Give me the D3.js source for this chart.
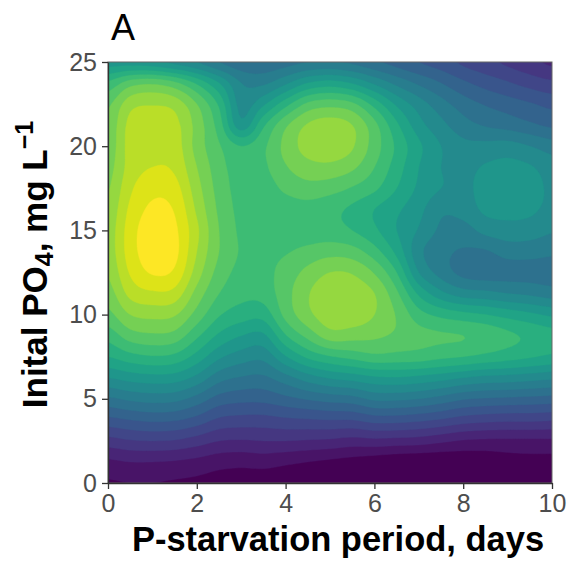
<!DOCTYPE html>
<html>
<head>
<meta charset="utf-8">
<script src="https://cdn.jsdelivr.net/npm/d3@7"></script>
<style>
  body { margin: 0; background: #fff; }
  svg { display: block; }
  text { font-family: "Liberation Sans", Arial, sans-serif; }
</style>
</head>
<body>
<svg id="chart" width="569" height="563"></svg>
<script>
// Grid of the fitted response surface (level score, 0–20), sampled every
// 0.5 day along x and every 1.25 mg/L along y (top row = 25, bottom row = 0).
const xGrid = [0, 0.5, 1, 1.5, 2, 2.5, 3, 3.5, 4, 4.5, 5, 5.5, 6, 6.5, 7, 7.5, 8, 8.5, 9, 9.5, 10];
const yGrid = [25, 23.75, 22.5, 21.25, 20, 18.75, 17.5, 16.25, 15, 13.75, 12.5, 11.25, 10, 8.75, 7.5, 6.25, 5, 3.75, 2.5, 1.25, 0];

// one array per x column, values listed from y = 25 down to y = 0
const zByColumn = [
  [10.5, 13.2, 14.8, 15.2, 15.3, 15.6, 15.9, 16.2, 16.4, 16.4, 16.1, 15.5, 14.7, 13.4, 12.0, 10.0, 7.8, 5.7, 3.6, 1.8, 0.9],
  [10.5, 14.5, 16.6, 17.3, 17.4, 17.4, 17.8, 18.2, 18.5, 18.5, 18.1, 17.3, 16.0, 14.5, 12.6, 10.4, 8.2, 6.0, 3.9, 2.0, 1.0],
  [10.3, 14.8, 16.9, 17.5, 17.6, 18.0, 18.7, 19.2, 19.6, 19.6, 19.1, 17.8, 16.3, 14.8, 12.9, 10.6, 8.4, 6.2, 4.0, 2.0, 1.0],
  [9.7, 14.2, 16.6, 17.3, 17.5, 17.8, 18.4, 18.9, 19.2, 19.3, 18.8, 17.6, 16.1, 14.6, 12.7, 10.5, 8.3, 6.1, 3.9, 1.9, 0.9],
  [9.0, 12.8, 15.0, 15.6, 15.6, 16.0, 16.4, 16.8, 17.2, 17.0, 16.5, 15.6, 14.6, 13.2, 11.6, 9.7, 7.6, 5.6, 3.5, 1.7, 0.8],
  [8.0, 11.0, 12.8, 13.5, 14.1, 14.4, 14.6, 14.8, 15.0, 15.0, 14.6, 14.0, 13.1, 11.8, 10.2, 8.4, 6.6, 4.8, 3.0, 1.4, 0.6],
  [7.3, 9.0, 9.6, 10.4, 13.0, 13.5, 13.6, 13.7, 13.8, 13.9, 13.7, 13.3, 12.5, 11.0, 9.5, 7.9, 6.3, 4.6, 2.9, 1.3, 0.5],
  [7.3, 8.8, 10.8, 12.8, 13.8, 13.8, 13.5, 13.4, 13.4, 13.7, 13.7, 13.4, 12.4, 10.8, 9.3, 7.8, 6.3, 4.6, 3.0, 1.4, 0.4],
  [7.6, 9.8, 12.6, 14.8, 15.3, 14.9, 14.2, 13.5, 13.4, 13.9, 14.4, 14.6, 14.3, 12.9, 10.9, 8.6, 6.7, 4.8, 3.0, 1.2, 0.3],
  [8.0, 11.0, 14.2, 16.1, 16.4, 15.6, 14.6, 13.6, 13.4, 14.3, 15.3, 15.9, 15.7, 14.3, 12.2, 9.5, 7.1, 4.9, 2.9, 1.0, 0.1],
  [8.1, 11.4, 14.6, 16.5, 16.7, 15.7, 14.4, 13.3, 13.4, 14.6, 16.0, 16.7, 16.6, 15.5, 12.9, 10.1, 7.4, 5.0, 2.8, 0.8, -0.2],
  [7.8, 10.9, 14.2, 16.0, 16.1, 15.2, 13.9, 12.8, 13.0, 14.4, 15.9, 16.6, 16.6, 15.4, 13.3, 10.4, 7.6, 5.0, 2.6, 0.6, -0.4],
  [7.2, 9.8, 12.6, 14.3, 14.5, 14.0, 13.2, 12.0, 12.2, 13.4, 14.9, 16.0, 16.0, 15.2, 13.7, 10.8, 8.2, 5.4, 2.7, 0.4, -0.6],
  [6.6, 8.7, 10.8, 12.2, 12.8, 12.5, 12.0, 11.2, 11.0, 11.7, 13.0, 14.2, 14.9, 14.8, 13.6, 10.9, 8.2, 5.4, 2.6, 0.2, -0.8],
  [6.0, 7.8, 9.5, 10.4, 11.2, 11.0, 10.8, 10.3, 9.9, 9.3, 10.0, 11.8, 13.4, 14.3, 13.5, 10.7, 8.0, 5.2, 2.5, 0.1, -0.9],
  [5.5, 7.0, 8.4, 9.3, 10.0, 10.0, 10.0, 9.2, 8.8, 8.3, 8.6, 10.3, 12.7, 14.1, 13.2, 10.4, 7.6, 4.9, 2.2, 0.1, -0.9],
  [4.8, 6.2, 7.5, 8.4, 9.3, 9.7, 9.8, 9.4, 8.6, 7.9, 7.7, 9.5, 12.3, 14.0, 13.0, 10.0, 7.1, 4.5, 1.9, 0.2, -0.8],
  [4.3, 5.6, 6.9, 7.9, 9.3, 10.1, 10.3, 10.2, 9.3, 7.9, 7.5, 9.3, 12.0, 13.7, 12.7, 9.7, 6.9, 4.3, 1.8, 0.3, -0.7],
  [3.8, 5.1, 6.5, 7.6, 9.4, 10.3, 10.5, 10.3, 9.6, 8.4, 7.6, 9.0, 11.6, 13.2, 12.4, 9.6, 6.8, 4.2, 1.8, 0.5, -0.5],
  [3.3, 4.6, 6.1, 7.2, 9.0, 10.1, 10.4, 10.2, 9.5, 8.4, 7.6, 8.8, 11.2, 12.8, 12.1, 9.4, 6.7, 4.2, 1.8, 0.6, -0.4],
  [2.8, 4.2, 5.7, 6.8, 8.5, 9.5, 9.8, 9.7, 9.1, 8.2, 7.5, 8.5, 10.8, 12.4, 11.8, 9.2, 6.6, 4.1, 1.8, 0.6, -0.4]
];

const xTicks = [0, 2, 4, 6, 8, 10];
const yTicks = [0, 5, 10, 15, 20, 25];
const nBins = 20;

const svg = d3.select("#chart");
const x = d3.scaleLinear().domain([0, 10]).range([108, 552]);
const y = d3.scaleLinear().domain([0, 25]).range([483, 62]);

// grid index -> data value
const xIdx = d3.scaleLinear().domain([0, xGrid.length - 1]).range([xGrid[0], xGrid[xGrid.length - 1]]);
const yIdx = d3.scaleLinear().domain([0, yGrid.length - 1]).range([yGrid[0], yGrid[yGrid.length - 1]]);

// Catmull-Rom resampling of the grid so the filled contours come out smooth
const F = 8;
const nCol = xGrid.length, nRow = yGrid.length;
const nx = (nCol - 1) * F + 1, ny = (nRow - 1) * F + 1;
const at = (i, j) => zByColumn[Math.max(0, Math.min(nCol - 1, i))][Math.max(0, Math.min(nRow - 1, j))];
const cr = (p0, p1, p2, p3, t) =>
  p1 + 0.5 * t * (p2 - p0 + t * (2 * p0 - 5 * p1 + 4 * p2 - p3 + t * (3 * (p1 - p2) + p3 - p0)));

const fine = new Float64Array(nx * ny);
for (let r = 0; r < ny; r++) {
  const v = r / F;
  const j = Math.min(Math.floor(v), nRow - 2), tv = v - j;
  for (let c = 0; c < nx; c++) {
    const u = c / F;
    const i = Math.min(Math.floor(u), nCol - 2), tu = u - i;
    const rows = [-1, 0, 1, 2].map(dj =>
      cr(at(i - 1, j + dj), at(i, j + dj), at(i + 1, j + dj), at(i + 2, j + dj), tu));
    fine[r * nx + c] = cr(rows[0], rows[1], rows[2], rows[3], tv);
  }
}

const thresholds = d3.range(1, nBins);
const bands = d3.contours().size([nx, ny]).thresholds(thresholds)(fine);
const colour = k => d3.interpolateViridis(k / (nBins - 1));

const toScreen = d3.geoTransform({
  point(px, py) {
    this.stream.point(x(xIdx((px - 0.5) / F)), y(yIdx((py - 0.5) / F)));
  }
});
const path = d3.geoPath(toScreen);

svg.append("clipPath").attr("id", "panel-clip")
  .append("rect")
  .attr("x", x(0)).attr("y", y(25))
  .attr("width", x(10) - x(0)).attr("height", y(0) - y(25));

const panel = svg.append("g").attr("clip-path", "url(#panel-clip)");
panel.append("rect")
  .attr("x", x(0)).attr("y", y(25))
  .attr("width", x(10) - x(0)).attr("height", y(0) - y(25))
  .attr("fill", colour(0));
panel.selectAll("path.band")
  .data(bands)
  .join("path")
  .attr("class", "band")
  .attr("d", path)
  .attr("fill", d => colour(d.value))
  .attr("stroke", d => colour(d.value))
  .attr("stroke-width", 0.4);

// panel frame
svg.append("rect")
  .attr("x", x(0)).attr("y", y(25))
  .attr("width", x(10) - x(0)).attr("height", y(0) - y(25))
  .attr("fill", "none").attr("stroke", "#666").attr("stroke-width", 1);

// axes
const axisStyle = g => {
  g.select(".domain").attr("stroke", "#333").attr("stroke-width", 1.3);
  g.selectAll(".tick line").attr("stroke", "#333").attr("stroke-width", 1.3);
  g.selectAll(".tick text")
    .attr("fill", "#4d4d4d")
    .style("font-size", "25px")
    .style("font-family", "'Liberation Sans', Arial, sans-serif");
};

svg.append("g")
  .attr("transform", `translate(0,${y(0)})`)
  .call(d3.axisBottom(x).tickValues(xTicks).tickSize(6).tickPadding(5).tickSizeOuter(0))
  .call(axisStyle);

svg.append("g")
  .attr("transform", `translate(${x(0)},0)`)
  .call(d3.axisLeft(y).tickValues(yTicks).tickSize(6).tickPadding(5).tickSizeOuter(0))
  .call(axisStyle);

// titles
svg.append("text")
  .attr("x", 338).attr("y", 551)
  .attr("text-anchor", "middle")
  .style("font-size", "34.5px").style("font-weight", "bold")
  .attr("fill", "#000")
  .text("P-starvation period, days");

const yt = svg.append("text")
  .attr("transform", `translate(47,${(y(0) + y(25)) / 2 - 8}) rotate(-90)`)
  .attr("text-anchor", "middle")
  .style("font-size", "35px").style("font-weight", "bold")
  .attr("fill", "#000");
yt.append("tspan").text("Inital PO");
yt.append("tspan").attr("baseline-shift", "-25%").style("font-size", "25px").text("4");
yt.append("tspan").text(", mg L");
yt.append("tspan").attr("baseline-shift", "55%").style("font-size", "25px").text("\u22121");

svg.append("text")
  .attr("x", 111).attr("y", 40)
  .style("font-size", "36px")
  .attr("fill", "#000")
  .text("A");
</script>
</body>
</html>
